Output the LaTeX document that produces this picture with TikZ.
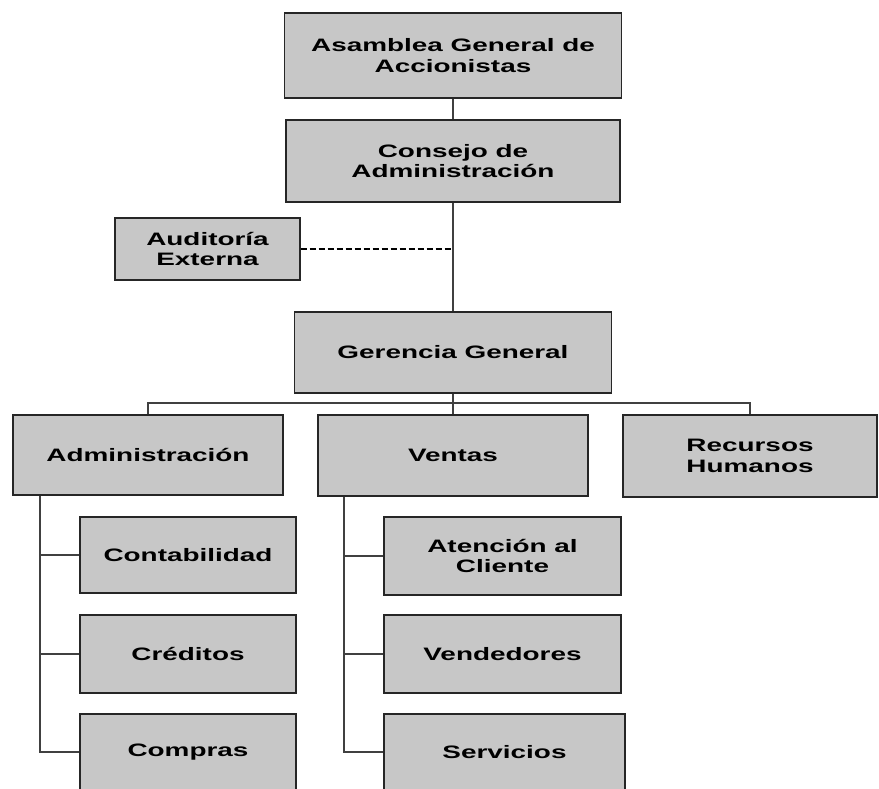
\documentclass[tikz,border=0pt]{standalone}
\usepackage{fontspec}
\newfontfamily\orgfont[FakeStretch=1.55]{Liberation Sans Bold}
\definecolor{boxgray}{gray}{0.78}
\tikzset{
  unit/.style={draw=black!85,fill=boxgray,line width=1.4pt,inner sep=0pt,align=center,
    font=\orgfont\fontsize{18}{20.5}\selectfont},
  link/.style={draw=black!75,line width=2pt},
  advice/.style={draw=black,line width=2.6pt,dash pattern=on 6pt off 3pt},
}

\begin{document}
\begin{tikzpicture}[x=1pt,y=-1pt]

  \useasboundingbox[fill=white] (0,0) rectangle (879,788);

  % cabeza: asamblea, consejo, auditoria, gerencia
  \node[unit,minimum width=337pt,minimum height=85pt] (asamblea)  at (453,55.5)  {Asamblea General de\\Accionistas};
  \node[unit,minimum width=334pt,minimum height=82pt] (consejo)   at (453,161)   {Consejo de\\Administración};
  \node[unit,minimum width=185pt,minimum height=62pt] (auditoria) at (207.5,249) {Auditoría\\Externa};
  \node[unit,minimum width=317pt,minimum height=81pt] (gerencia)  at (453,352.5) {Gerencia General};
  \coordinate (aud-tap) at (consejo.south |- auditoria.east);
  \draw[link] (asamblea) -- (consejo);
  \draw[link] (consejo) -- (gerencia);
  \draw[advice] (auditoria.east) -- (aud-tap);

  % areas
  \node[unit,minimum width=270pt,minimum height=80pt] (admin)  at (148,455)   {Administración};
  \node[unit,minimum width=270pt,minimum height=81pt] (ventas) at (453,455.5) {Ventas};
  \node[unit,minimum width=254pt,minimum height=82pt] (rrhh)   at (750,456)   {Recursos\\Humanos};
  \coordinate (bus) at (453,403);
  \draw[link] (gerencia) -- (ventas);
  \draw[link] (admin.north) |- (bus) -| (rrhh.north);

  % administracion
  \node[unit,minimum width=216pt,minimum height=76pt] (contab)   at (188,555) {Contabilidad};
  \node[unit,minimum width=216pt,minimum height=78pt] (creditos) at (188,654) {Créditos};
  \node[unit,minimum width=216pt,minimum height=76pt] (compras)  at (188,752) {Compras};
  \draw[link] ([xshift=28pt]admin.south west) |- (compras.west);
  \draw[link] ([xshift=28pt]admin.south west |- contab.west) -- (contab.west);
  \draw[link] ([xshift=28pt]admin.south west |- creditos.west) -- (creditos.west);

  % ventas
  \node[unit,minimum width=237pt,minimum height=78pt] (atencion)   at (502.5,556) {Atención al\\Cliente};
  \node[unit,minimum width=237pt,minimum height=78pt] (vendedores) at (502.5,654) {Vendedores};
  \node[unit,minimum width=241pt,minimum height=76pt] (servicios)  at (504.5,752) {Servicios};
  \draw[link] ([xshift=27pt]ventas.south west) |- (servicios.west);
  \draw[link] ([xshift=27pt]ventas.south west |- atencion.west) -- (atencion.west);
  \draw[link] ([xshift=27pt]ventas.south west |- vendedores.west) -- (vendedores.west);

\end{tikzpicture}
\end{document}
